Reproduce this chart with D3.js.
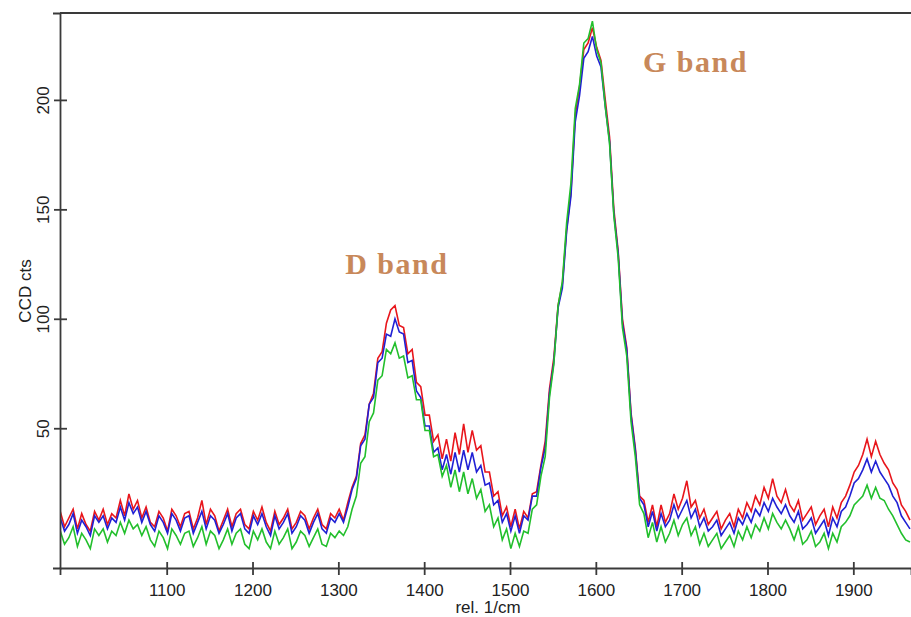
<!doctype html>
<html>

<head>
    <title>raman</title>
    <script src="https://d3js.org/d3.v7.min.js"></script>
</head>

<style>
    body { margin: 0; background: #fff; }
    .axis text { font: 17px "Liberation Sans", Arial, sans-serif; fill: #222; }
    .label { font: 17px "Liberation Sans", Arial, sans-serif; fill: #222; }
    .band { font: bold 30px "Liberation Serif", serif; fill: #c8885a; letter-spacing: 1.5px; }
</style>

<body>

    <script>

    // sampling of the spectra (rel. 1/cm), one value every 5 units
    var waveStart = 976;
    var waveStep = 5;

    // CCD counts, rows of 10 samples (50 units each)
    var redCounts = [
        12, 5, 9, 13, 4, 11, 6, 3, 12, 8,
        13, 6, 11, 9, 17, 10, 20, 13, 17, 9,
        14, 7, 5, 12, 9, 3, 13, 10, 5, 11,
        12, 4, 9, 17, 6, 13, 10, 3, 8, 13,
        5, 11, 13, 6, 4, 12, 8, 14, 7, 3,
        12, 6, 9, 13, 4, 7, 12, 10, 4, 9,
        13, 6, 4, 11, 9, 13, 8, 16, 23, 28,
        43, 47, 61, 66, 82, 85, 98, 104, 106, 97,
        96, 84, 86, 71, 69, 56, 56, 44, 47, 36,
        45, 35, 48, 38, 52, 39, 49, 40, 42, 30,
        30, 19, 21, 10, 14, 5, 13, 4, 12, 9,
        20, 21, 33, 44, 68, 82, 106, 116, 141, 158,
        193, 206, 223, 226, 233, 224, 218, 200, 183, 150,
        131, 100, 87, 57, 41, 19, 17, 7, 15, 5,
        15, 7, 11, 20, 13, 18, 26, 14, 17, 9,
        13, 6, 9, 12, 4, 8, 11, 5, 13, 9,
        16, 12, 19, 15, 23, 18, 27, 19, 16, 22,
        15, 12, 17, 8, 11, 14, 6, 10, 13, 5,
        14, 9, 16, 19, 24, 30, 33, 38, 45, 37,
        44, 38, 34, 31, 25, 22, 15, 12, 8
    ];

    var blueCounts = [
        9, 3, 6, 11, 2, 8, 5, 1, 10, 7,
        10, 4, 9, 7, 14, 8, 16, 11, 14, 7,
        12, 6, 3, 10, 7, 2, 11, 8, 3, 9,
        10, 2, 7, 12, 4, 10, 8, 2, 6, 11,
        3, 9, 11, 4, 2, 10, 6, 11, 5, 1,
        10, 4, 7, 11, 2, 5, 10, 8, 2, 7,
        11, 4, 2, 9, 7, 11, 7, 14, 22, 27,
        42, 45, 61, 64, 80, 82, 93, 92, 100, 94,
        93, 80, 81, 67, 64, 51, 51, 39, 41, 31,
        38, 29, 39, 30, 40, 31, 39, 30, 33, 24,
        25, 15, 17, 7, 11, 3, 10, 2, 10, 8,
        19, 19, 32, 41, 66, 80, 105, 114, 140, 156,
        190, 202, 219, 222, 229, 220, 215, 197, 181, 148,
        130, 98, 86, 56, 40, 18, 15, 5, 12, 3,
        11, 5, 8, 15, 9, 13, 17, 9, 13, 5,
        9, 3, 5, 8, 1, 4, 7, 2, 9, 6,
        11, 7, 13, 10, 16, 12, 18, 14, 11, 15,
        10, 7, 12, 4, 6, 9, 2, 5, 8, 1,
        9, 5, 12, 14, 19, 25, 27, 31, 36, 30,
        35, 30, 27, 24, 19, 16, 10, 7, 4
    ];

    var greenCounts = [
        3, -3, 0, 5, -4, 2, -1, -5, 4, 1,
        4, -2, 3, 1, 7, 2, 8, 4, 6, 1,
        5, -1, -4, 3, 0, -5, 4, 1, -3, 2,
        3, -4, 0, 5, -3, 3, 1, -5, -1, 4,
        -3, 2, 4, -3, -5, 3, -1, 4, -2, -5,
        3, -3, 0, 4, -5, -2, 3, 1, -4, 0,
        4, -3, -4, 2, 0, 3, 1, 5, 13, 19,
        34, 37, 53, 57, 72, 74, 86, 84, 89, 82,
        83, 73, 74, 63, 63, 49, 49, 37, 38, 28,
        33, 23, 31, 21, 30, 20, 27, 18, 22, 12,
        15, 5, 9, -1, 4, -5, 2, -4, 3, 2,
        13, 15, 28, 37, 64, 79, 106, 117, 144, 162,
        196, 207, 226, 228, 236, 223, 217, 197, 180, 147,
        128, 96, 83, 53, 37, 15, 11, 0, 7, -2,
        5, -2, 2, 8, 1, 6, 9, 1, 5, -3,
        2, -4, -1, 2, -5, -2, 1, -4, 3, -1,
        5, 0, 6, 3, 9, 4, 11, 7, 4, 8,
        4, -1, 5, -3, -1, 3, -4, -2, 2, -5,
        2, -2, 5, 7, 10, 15, 17, 19, 24, 18,
        23, 18, 17, 13, 10, 6, 2, -1, -2
    ];

    var xTicks = [1100, 1200, 1300, 1400, 1500, 1600, 1700, 1800, 1900];
    var yTicks = [50, 100, 150, 200];
    var bandLabels = [
        { text: 'D band', wave: 1308, counts: 120.5 },
        { text: 'G band', wave: 1655, counts: 212.8 }
    ];

    // set canvas parameters
    var canvasWidth = 911;
    var canvasHeight = 617;
    var plotLeft = 60, plotRight = 911, plotTop = 13, plotBottom = 568;

    var svg = d3.select('body')
                .append('svg')
                .attr('width', canvasWidth)
                .attr('height', canvasHeight);

    var xScale = d3.scaleLinear()
                .domain([975.7, 1967.2])
                .range([plotLeft, plotRight]);

    var yScale = d3.scaleLinear()
                .domain([-13.85, 239.7])
                .range([plotBottom, plotTop]);

    var line = d3.line()
                .x(function(d, i) { return xScale(waveStart + i * waveStep); })
                .y(function(d) { return yScale(d); });

    svg.append('clipPath')
        .attr('id', 'plotClip')
        .append('rect')
        .attr('x', plotLeft)
        .attr('y', plotTop)
        .attr('width', plotRight - plotLeft)
        .attr('height', plotBottom - plotTop);

    // spectra, red below, green on top
    var spectra = [
        { values: redCounts, color: '#e8161c' },
        { values: blueCounts, color: '#2020d4' },
        { values: greenCounts, color: '#22bf2c' }
    ];

    svg.append('g')
        .attr('clip-path', 'url(#plotClip)')
        .selectAll('path')
        .data(spectra)
        .enter()
        .append('path')
        .attr('d', function(d) { return line(d.values); })
        .attr('fill', 'none')
        .attr('stroke', function(d) { return d.color; })
        .attr('stroke-width', 1.6)
        .attr('stroke-linejoin', 'miter');

    // x-axis
    var xAxis = d3.axisBottom(xScale)
                .tickValues(xTicks)
                .tickFormat(d3.format('d'))
                .tickSizeOuter(0)
                .tickSize(7)
                .tickPadding(9);

    var gx = svg.append('g')
                .attr('class', 'axis')
                .attr('transform', 'translate(0, ' + plotBottom + ')')
                .call(xAxis);

    gx.selectAll('.tick line').attr('y1', -6).attr('y2', 7);

    // y-axis, labels turned on their side
    var yAxis = d3.axisLeft(yScale)
                .tickValues(yTicks)
                .tickSizeOuter(0)
                .tickSize(7);

    var gy = svg.append('g')
                .attr('class', 'axis')
                .attr('transform', 'translate(' + plotLeft + ', 0)')
                .call(yAxis);

    gy.selectAll('.tick line').attr('x1', -6).attr('x2', 7);
    gy.selectAll('.tick text')
        .attr('transform', 'rotate(-90)')
        .attr('x', 0)
        .attr('y', -11)
        .attr('dy', 0)
        .style('text-anchor', 'middle');

    svg.selectAll('.axis .domain, .axis .tick line')
        .attr('stroke', '#3a3a3a')
        .attr('stroke-width', 1.8);

    // top frame line
    svg.append('line')
        .attr('x1', plotLeft)
        .attr('x2', plotRight)
        .attr('y1', plotTop)
        .attr('y2', plotTop)
        .attr('stroke', '#3a3a3a')
        .attr('stroke-width', 1.8);

    // axis labels
    svg.append('text')
        .attr('class', 'label')
        .attr('x', 488)
        .attr('y', 613)
        .style('text-anchor', 'middle')
        .text('rel. 1/cm');

    svg.append('text')
        .attr('class', 'label')
        .attr('transform', 'translate(31, 291) rotate(-90)')
        .style('text-anchor', 'middle')
        .text('CCD cts');

    // band annotations
    svg.selectAll('.band')
        .data(bandLabels)
        .enter()
        .append('text')
        .attr('class', 'band')
        .attr('x', function(d) { return xScale(d.wave); })
        .attr('y', function(d) { return yScale(d.counts); })
        .text(function(d) { return d.text; });

    </script>

</body>

</html>
